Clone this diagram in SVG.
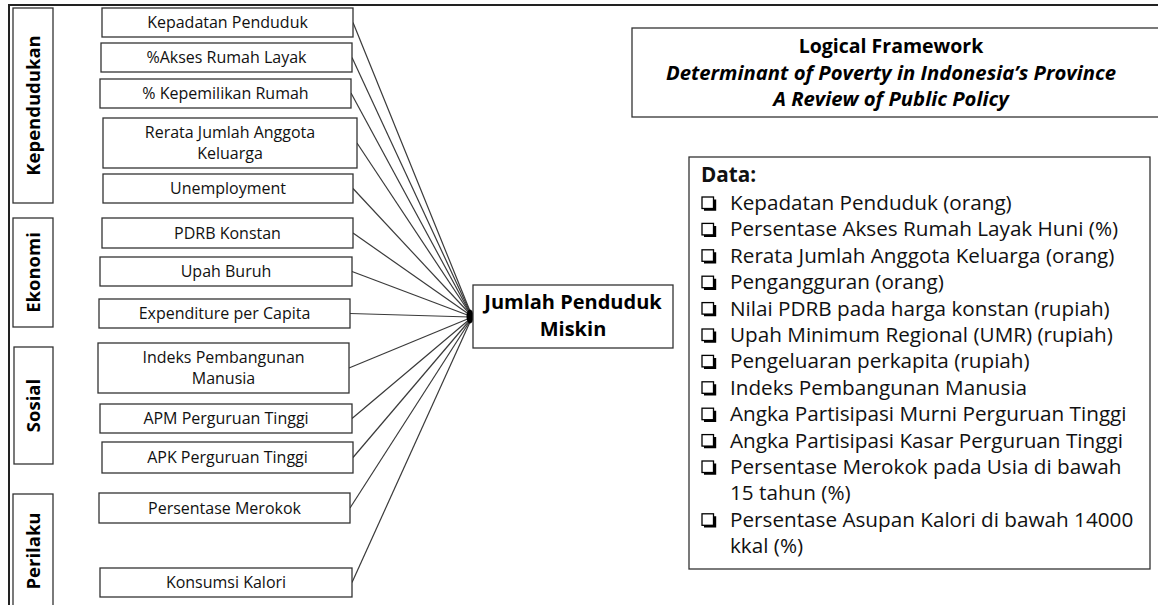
<svg xmlns="http://www.w3.org/2000/svg" xmlns:xlink="http://www.w3.org/1999/xlink" width="1158" height="605" viewBox="0 0 1158 605">
<style>
.bx{fill:#fff;stroke:#333;stroke-width:1.3}
.t{font-family:"Open Sans",Lato,sans-serif;font-size:16px;fill:#111;text-anchor:middle}
.cat{font-family:"Open Sans",Lato,sans-serif;font-size:18.5px;font-weight:bold;fill:#000;text-anchor:middle}
.hub{font-family:"Open Sans",Lato,sans-serif;font-size:20px;font-weight:bold;fill:#000;text-anchor:middle}
.ttl{font-family:"Open Sans",Lato,sans-serif;font-size:19.5px;font-weight:bold;fill:#000;text-anchor:middle}
.it{font-style:italic;font-size:20.3px}
.d{font-family:"Open Sans",Lato,sans-serif;font-size:20.7px;fill:#111}
.db{font-weight:bold}
.cn line{stroke:#3a3a3a;stroke-width:1.2}
.frame{stroke:#222;stroke-width:2;fill:none}
</style>
<defs>
<g id="cb">
<rect x="0" y="-13" width="11.5" height="11.5" fill="#fff" stroke="#000" stroke-width="1.3"/>
<path d="M2,-0.5 H13 V-10.5" fill="none" stroke="#000" stroke-width="2.4"/>
</g>
</defs>
<path class="frame" d="M9,605 V5 H1158"/>

<g id="cat-kependudukan"><rect class="bx" x="13" y="8" width="40" height="195"/><text class="cat" transform="translate(40,105.5) rotate(-90)">Kependudukan</text></g>
<g id="cat-ekonomi"><rect class="bx" x="13" y="218" width="40" height="109"/><text class="cat" transform="translate(40,272.5) rotate(-90)">Ekonomi</text></g>
<g id="cat-sosial"><rect class="bx" x="14" y="347" width="39" height="117"/><text class="cat" transform="translate(40,405.5) rotate(-90)">Sosial</text></g>
<g id="cat-perilaku"><rect class="bx" x="13" y="494" width="40" height="120"/><text class="cat" transform="translate(40,551) rotate(-90)">Perilaku</text></g>

<g class="cn" id="connectors">
<line x1="353" y1="22.5" x2="470" y2="311"/>
<line x1="352" y1="57.5" x2="470" y2="312"/>
<line x1="351" y1="93" x2="470" y2="313"/>
<line x1="357" y1="143" x2="470" y2="313.5"/>
<line x1="353" y1="188.5" x2="470" y2="314"/>
<line x1="353" y1="233" x2="470" y2="315"/>
<line x1="352" y1="271.5" x2="470" y2="316"/>
<line x1="350" y1="313.5" x2="470" y2="317"/>
<line x1="349" y1="368" x2="470" y2="318"/>
<line x1="352" y1="418.5" x2="470" y2="319"/>
<line x1="353" y1="457.5" x2="470" y2="320"/>
<line x1="350" y1="508" x2="470" y2="321"/>
<line x1="352" y1="582.5" x2="470" y2="322"/>
<ellipse cx="470" cy="316.5" rx="3.5" ry="7" fill="#000" stroke="none"/>
</g>

<g id="v1"><rect class="bx" x="102" y="8" width="251" height="29"/><text class="t" x="227.5" y="28">Kepadatan Penduduk</text></g>
<g id="v2"><rect class="bx" x="101" y="43" width="251" height="29"/><text class="t" x="226.5" y="63">%Akses Rumah Layak</text></g>
<g id="v3"><rect class="bx" x="100" y="79" width="251" height="29"/><text class="t" x="225.5" y="99">% Kepemilikan Rumah</text></g>
<g id="v4"><rect class="bx" x="103" y="118" width="254" height="50"/><text class="t" x="230" y="138">Rerata Jumlah Anggota</text><text class="t" x="230" y="159">Keluarga</text></g>
<g id="v5"><rect class="bx" x="103" y="174" width="250" height="29"/><text class="t" x="228" y="194">Unemployment</text></g>
<g id="v6"><rect class="bx" x="102" y="218" width="251" height="30"/><text class="t" x="227.5" y="238.5">PDRB Konstan</text></g>
<g id="v7"><rect class="bx" x="100" y="257" width="252" height="29"/><text class="t" x="226" y="277">Upah Buruh</text></g>
<g id="v8"><rect class="bx" x="99" y="299" width="251" height="29"/><text class="t" x="224.5" y="319">Expenditure per Capita</text></g>
<g id="v9"><rect class="bx" x="98" y="343" width="251" height="50"/><text class="t" x="223.5" y="363">Indeks Pembangunan</text><text class="t" x="223.5" y="384">Manusia</text></g>
<g id="v10"><rect class="bx" x="100" y="404" width="252" height="29"/><text class="t" x="226" y="424">APM Perguruan Tinggi</text></g>
<g id="v11"><rect class="bx" x="102" y="442" width="251" height="31"/><text class="t" x="227.5" y="463">APK Perguruan Tinggi</text></g>
<g id="v12"><rect class="bx" x="99" y="493" width="251" height="30"/><text class="t" x="224.5" y="513.5">Persentase Merokok</text></g>
<g id="v13"><rect class="bx" x="100" y="568" width="252" height="29"/><text class="t" x="226" y="588">Konsumsi Kalori</text></g>

<g id="hub"><rect class="bx" x="473" y="285" width="200" height="63"/><text class="hub" x="573" y="309">Jumlah Penduduk</text><text class="hub" x="573" y="336">Miskin</text></g>

<g id="title"><rect class="bx" x="632" y="28" width="530" height="89"/>
<text class="ttl" x="891" y="53">Logical Framework</text>
<text class="ttl it" x="891" y="80">Determinant of Poverty in Indonesia’s Province</text>
<text class="ttl it" x="891" y="106">A Review of Public Policy</text></g>

<g id="data"><rect class="bx" x="689" y="157" width="461" height="412"/>
<text class="d db" x="701" y="182">Data:</text>
<use xlink:href="#cb" x="702" y="210"/><text class="d" x="730" y="210">Kepadatan Penduduk (orang)</text>
<use xlink:href="#cb" x="702" y="236.4"/><text class="d" x="730" y="236.4">Persentase Akses Rumah Layak Huni (%)</text>
<use xlink:href="#cb" x="702" y="262.8"/><text class="d" x="730" y="262.8">Rerata Jumlah Anggota Keluarga (orang)</text>
<use xlink:href="#cb" x="702" y="289.2"/><text class="d" x="730" y="289.2">Pengangguran (orang)</text>
<use xlink:href="#cb" x="702" y="315.6"/><text class="d" x="730" y="315.6">Nilai PDRB pada harga konstan (rupiah)</text>
<use xlink:href="#cb" x="702" y="342"/><text class="d" x="730" y="342">Upah Minimum Regional (UMR) (rupiah)</text>
<use xlink:href="#cb" x="702" y="368.4"/><text class="d" x="730" y="368.4">Pengeluaran perkapita (rupiah)</text>
<use xlink:href="#cb" x="702" y="394.8"/><text class="d" x="730" y="394.8">Indeks Pembangunan Manusia</text>
<use xlink:href="#cb" x="702" y="421.2"/><text class="d" x="730" y="421.2">Angka Partisipasi Murni Perguruan Tinggi</text>
<use xlink:href="#cb" x="702" y="447.6"/><text class="d" x="730" y="447.6">Angka Partisipasi Kasar Perguruan Tinggi</text>
<use xlink:href="#cb" x="702" y="474"/><text class="d" x="730" y="474">Persentase Merokok pada Usia di bawah</text>
<text class="d" x="730" y="500.4">15 tahun (%)</text>
<use xlink:href="#cb" x="702" y="526.8"/><text class="d" x="730" y="526.8">Persentase Asupan Kalori di bawah 14000</text>
<text class="d" x="730" y="553.2">kkal (%)</text>
</g>
</svg>
